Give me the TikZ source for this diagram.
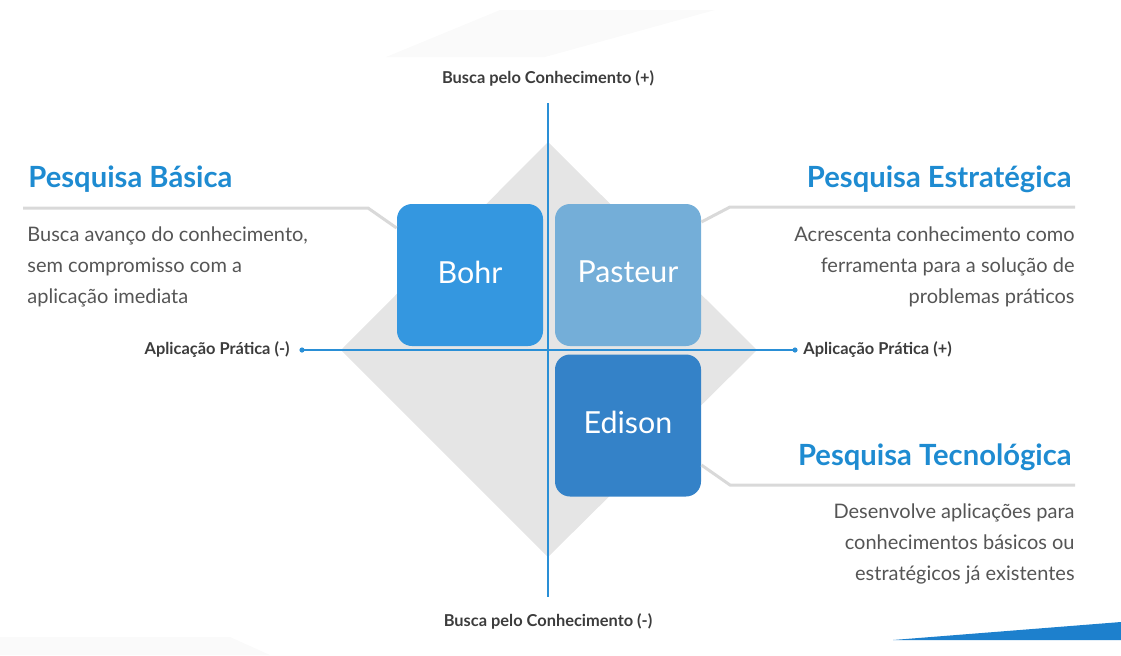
\documentclass[tikz,border=0pt]{standalone}
\usepackage{fontspec}
\setmainfont{Lato}
\usetikzlibrary{positioning}

\definecolor{eixo}{HTML}{2A8FD6}
\definecolor{titulo}{HTML}{1E8BD1}
\definecolor{losango}{HTML}{E5E5E5}
\definecolor{ligacao}{HTML}{D9D9D9}
\definecolor{texto}{HTML}{555555}
\definecolor{rotulo}{HTML}{3C3C3C}
\definecolor{bohrazul}{HTML}{3497E0}
\definecolor{pasteurazul}{HTML}{74AED8}
\definecolor{edisonazul}{HTML}{3482C8}
\definecolor{faixa}{HTML}{1D80CD}

\tikzset{
  caixa/.style={rounded corners=7.5pt, minimum width=73pt, minimum height=71pt,
    text=white, text depth=3pt, font=\fontsize{15.2}{17}\selectfont},
  titulo/.style={text=titulo, font=\bfseries\fontsize{14.6}{17}\selectfont, inner sep=0pt},
  corpo/.style={text=texto, font=\fontsize{10}{15.5}\selectfont, inner sep=0pt},
  rotulo/.style={text=rotulo, font=\bfseries\fontsize{8.2}{9}\selectfont, inner sep=0pt},
  ligacao/.style={draw=ligacao, line width=1.5pt},
}

\begin{document}
\begin{tikzpicture}[x=0.5pt,y=-0.5pt]
    \useasboundingbox (0,0) rectangle (1121,655);

    % Fundo: faixas claras e faixa azul
    \fill[gray!4] (386,57) -- (500,10) -- (715,10) -- (545,57) -- cycle;
    \fill[gray!4] (0,637) -- (230,637) -- (270,655) -- (0,655) -- cycle;
    \fill[faixa] (893,640) -- (1121,622) -- (1121,640) -- cycle;

    % Losango cinza
    \fill[losango] (548,142) -- (757,350) -- (548,557) -- (341,350) -- cycle;

    % Caixas dos quadrantes
    \node[caixa, fill=bohrazul] (bohr) at (470,275) {Bohr};
    \node[caixa, fill=pasteurazul] (pasteur) at (628,275) {Pasteur};
    \node[caixa, fill=edisonazul] (edison) at (628,425.5) {Edison};

    % Linhas que ligam as caixas aos titulos
    \coordinate (basica1) at (368,208);
    \coordinate (basica2) at (23,208);
    \coordinate (estrat1) at (730,207);
    \coordinate (estrat2) at (1075,207);
    \coordinate (tecno1) at (730,485);
    \coordinate (tecno2) at (1075,485);
    \draw[ligacao] ([yshift=23.5pt]bohr.west) -- (basica1) -- (basica2);
    \draw[ligacao] ([yshift=26.5pt]pasteur.east) -- (estrat1) -- (estrat2);
    \draw[ligacao] ([yshift=-19.75pt]edison.east) -- (tecno1) -- (tecno2);

    % Eixos
    \coordinate (topo) at (548,103);
    \coordinate (base) at (548,597);
    \coordinate (esq) at (302,350);
    \coordinate (dir) at (795,350);
    \draw[eixo, line width=1pt] (topo) -- (base);
    \draw[eixo, line width=1.2pt, line cap=round] (esq) -- (dir);
    \fill[eixo] (esq) circle (1.3pt) (dir) circle (1.3pt);

    \node[rotulo] (conhecmais) at (548,78) {Busca pelo Conhecimento (+)};
    \node[rotulo] (conhecmenos) at (548,621) {Busca pelo Conhecimento (-)};
    \node[rotulo, left=6pt of esq] (aplicmenos) {Aplicação Prática (-)};
    \node[rotulo, right=4pt of dir] (aplicmais) {Aplicação Prática (+)};

    % Titulos e descricoes
    \node[titulo, anchor=base west] (basica) at (28,187) {Pesquisa Básica};
    \node[titulo, anchor=base east] (estrategica) at (1072,187) {Pesquisa Estratégica};
    \node[titulo, anchor=base east] (tecnologica) at (1072,465) {Pesquisa Tecnológica};

    \node[corpo, anchor=north west, align=left] (basicatxt) at (27,226)
        {Busca avanço do conhecimento,\\sem compromisso com a\\aplicação imediata};
    \node[corpo, anchor=north east, align=right] (estrattxt) at (1075,226)
        {Acrescenta conhecimento como\\ferramenta para a solução de\\problemas práticos};
    \node[corpo, anchor=north east, align=right] (tecnotxt) at (1075,503)
        {Desenvolve aplicações para\\conhecimentos básicos ou\\estratégicos já existentes};
\end{tikzpicture}
\end{document}
